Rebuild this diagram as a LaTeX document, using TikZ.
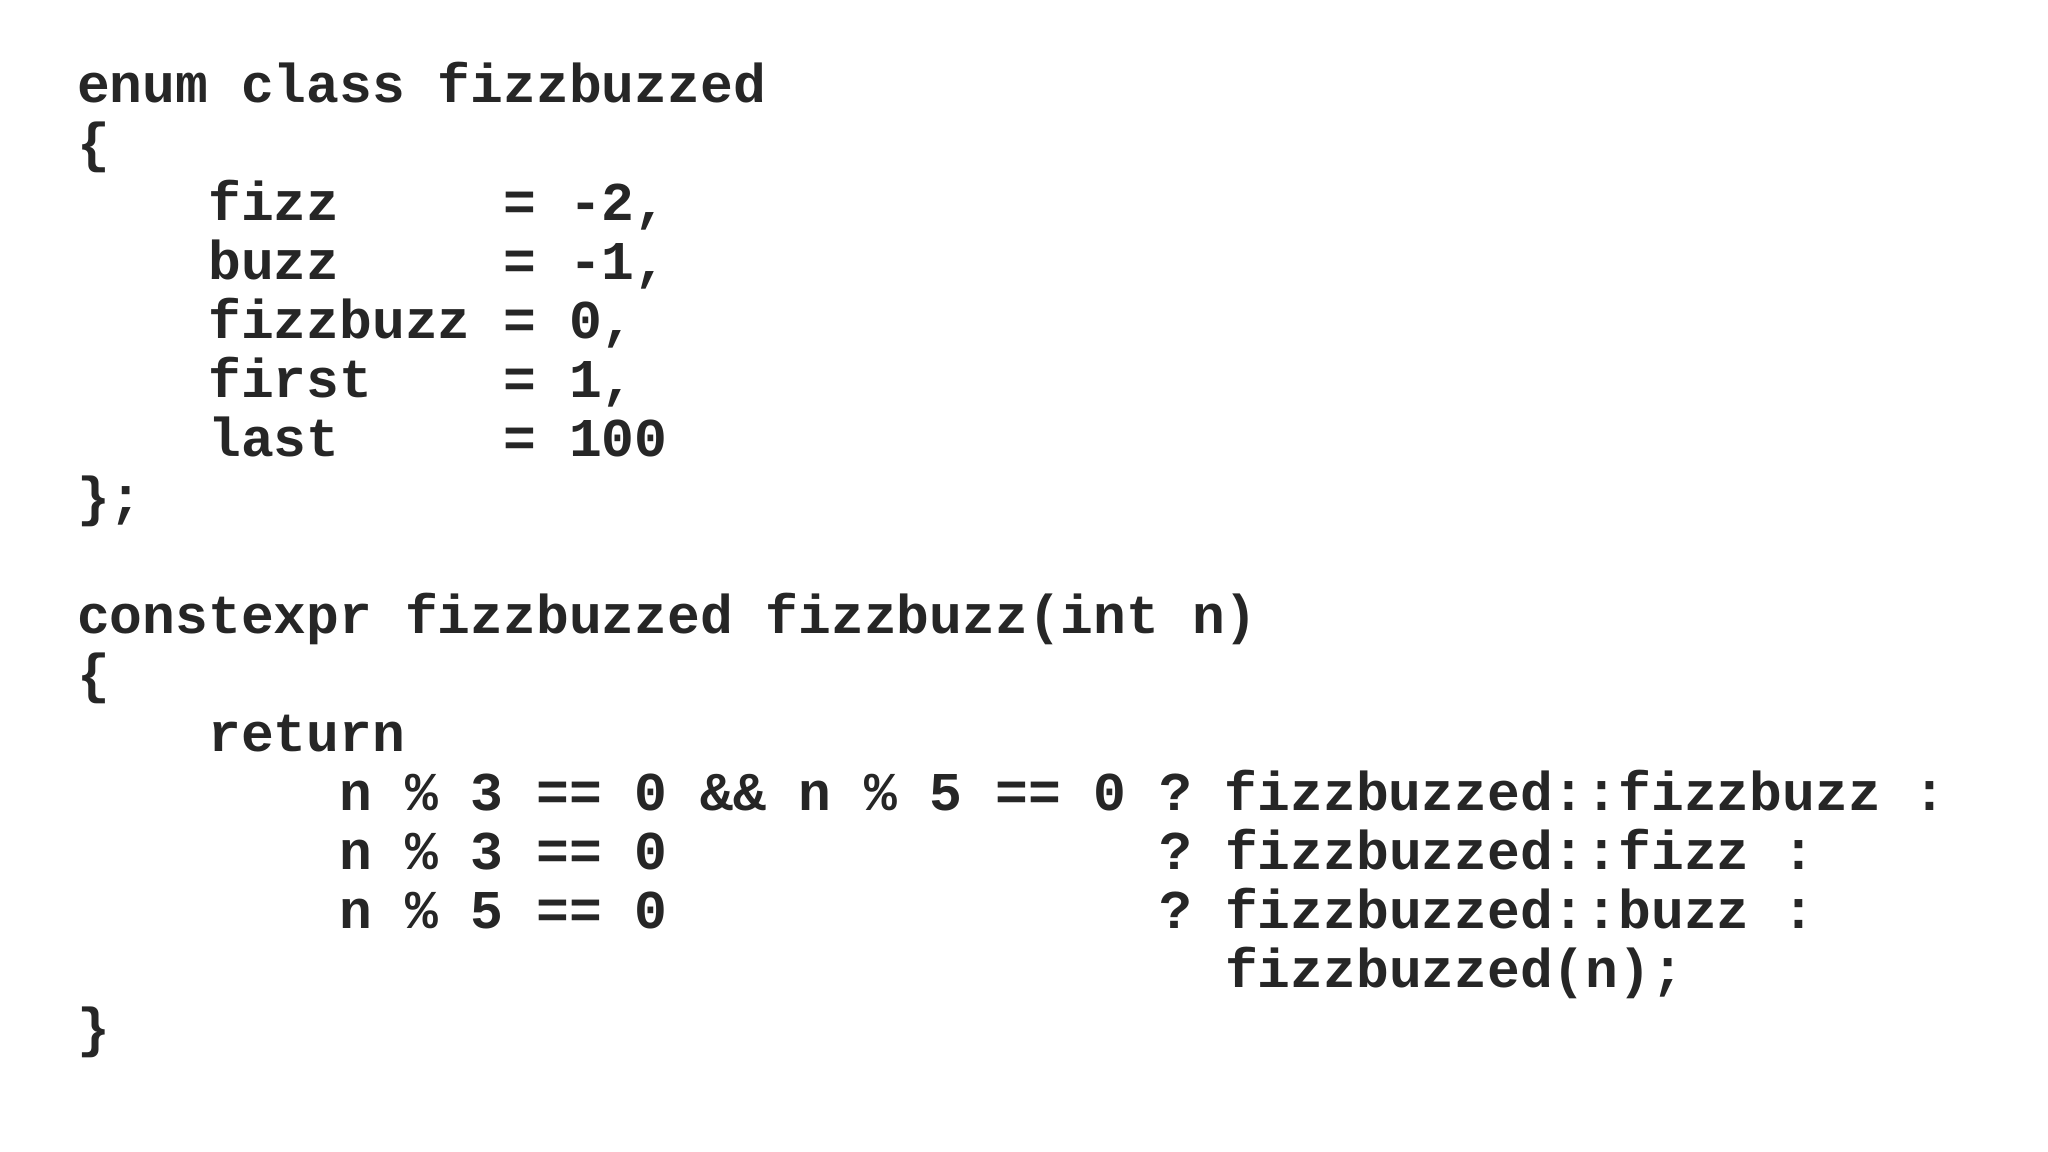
\documentclass[tikz,border=0pt]{standalone}
\usepackage{fontspec}
\setmonofont{Liberation Mono}
\begin{document}
\begin{tikzpicture}[x=1cm,y=1cm,code/.style={anchor=base west,inner sep=0pt,font=\ttfamily\bfseries\fontsize{15.55pt}{16pt}\selectfont,text=black!85}]
\useasboundingbox (0,0) rectangle (20.48,11.52);
\def\X{0.765}
\def\Y{10.49}
\def\D{0.59}
\node[code] (l0) at (\X,\Y-0*\D) {enum class fizzbuzzed};
\node[code] (l1) at (\X,\Y-1*\D) {\{};
\node[code] (l2) at (\X,\Y-2*\D) {~~~~fizz~~~~~=~-2,};
\node[code] (l3) at (\X,\Y-3*\D) {~~~~buzz~~~~~=~-1,};
\node[code] (l4) at (\X,\Y-4*\D) {~~~~fizzbuzz~=~0,};
\node[code] (l5) at (\X,\Y-5*\D) {~~~~first~~~~=~1,};
\node[code] (l6) at (\X,\Y-6*\D) {~~~~last~~~~~=~100};
\node[code] (l7) at (\X,\Y-7*\D) {\};};
\node[code] (l9) at (\X,\Y-9*\D) {constexpr fizzbuzzed fizzbuzz(int n)};
\node[code] (l10) at (\X,\Y-10*\D) {\{};
\node[code] (l11) at (\X,\Y-11*\D) {~~~~return};
\node[code] (l12) at (\X,\Y-12*\D) {~~~~~~~~n~\%~3~==~0~\&\&~n~\%~5~==~0~?~fizzbuzzed::fizzbuzz~:};
\node[code] (l13) at (\X,\Y-13*\D) {~~~~~~~~n~\%~3~==~0~~~~~~~~~~~~~~~?~fizzbuzzed::fizz~:};
\node[code] (l14) at (\X,\Y-14*\D) {~~~~~~~~n~\%~5~==~0~~~~~~~~~~~~~~~?~fizzbuzzed::buzz~:};
\node[code] (l15) at (\X,\Y-15*\D) {~~~~~~~~~~~~~~~~~~~~~~~~~~~~~~~~~~~fizzbuzzed(n);};
\node[code] (l16) at (\X,\Y-16*\D) {\}};
\end{tikzpicture}
\end{document}
